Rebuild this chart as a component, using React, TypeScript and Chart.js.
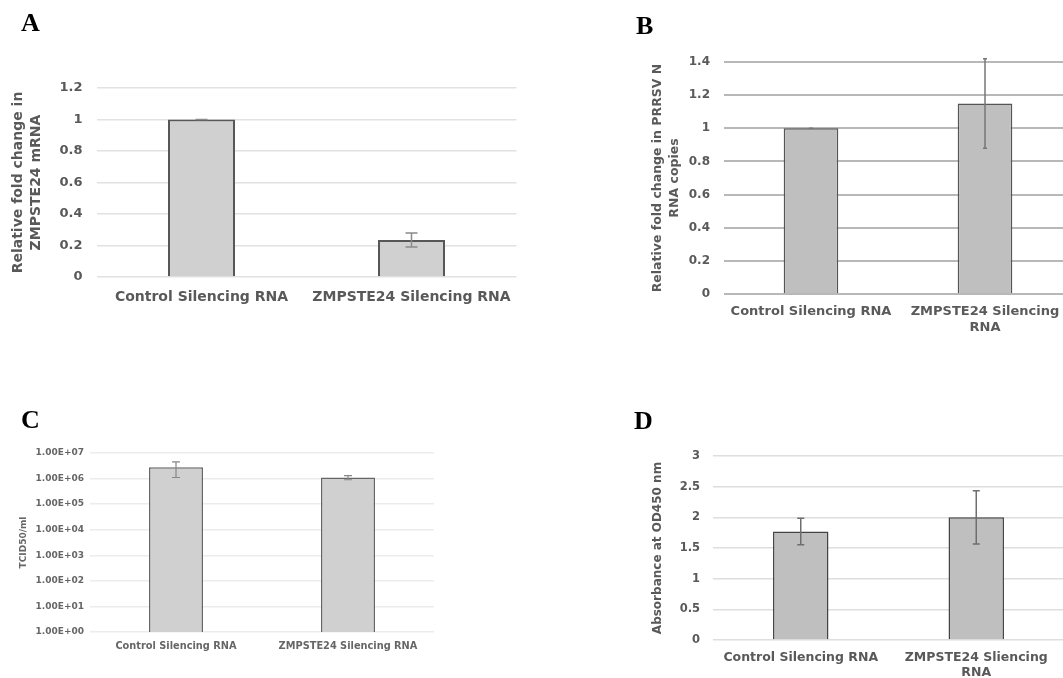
import React, { useEffect, useRef } from "react";
import { Chart, registerables } from "chart.js";

Chart.register(...registerables);

// ---- data ----
const categories = ["Control Silencing RNA", "ZMPSTE24 Silencing RNA"];

const labelsA = ["Control Silencing RNA", "ZMPSTE24 Silencing RNA"];
const valuesA = [1.0, 0.235];
const errorsA = [0, 0.045];
const ticksA = [0, 0.2, 0.4, 0.6, 0.8, 1, 1.2];

const labelsB = [["Control Silencing RNA"], ["ZMPSTE24 Silencing", "RNA"]];
const valuesB = [1.0, 1.15];
const errorsB = [0, 0.27];
const ticksB = [0, 0.2, 0.4, 0.6, 0.8, 1, 1.2, 1.4];

const labelsC = ["Control Silencing RNA", "ZMPSTE24 Silencing RNA"];
const valuesC = [2.8e6, 1.1e6];
const errorsC = [1.7e6, 0.2e6];
const ticksC = [1, 10, 100, 1000, 10000, 100000, 1000000, 10000000];
const tickLabelsC = ["1.00E+00", "1.00E+01", "1.00E+02", "1.00E+03", "1.00E+04", "1.00E+05", "1.00E+06", "1.00E+07"];

const labelsD = [["Control Silencing RNA"], ["ZMPSTE24 Sliencing", "RNA"]];
const valuesD = [1.77, 2.0];
const errorsD = [0.215, 0.435];
const ticksD = [0, 0.5, 1, 1.5, 2, 2.5, 3];

// ---- error bar plugin ----
const errorBarPlugin = {
  id: "errorBarsCustom",
  afterDatasetsDraw(chart: any) {
    const ctx = chart.ctx;
    const y = chart.scales.y;
    const ds: any = chart.data.datasets[0];
    const meta = chart.getDatasetMeta(0);
    const errs: number[] = ds.errors || [];
    ctx.save();
    ctx.strokeStyle = ds.errColor;
    ctx.lineWidth = ds.errWidth;
    const cap = ds.errCap;
    meta.data.forEach((bar: any, i: number) => {
      const e = errs[i];
      if (e == null) return;
      const v = ds.data[i];
      const yt = y.getPixelForValue(v + e);
      const yb = y.getPixelForValue(v - e);
      ctx.beginPath();
      ctx.moveTo(bar.x, yt);
      ctx.lineTo(bar.x, yb);
      ctx.moveTo(bar.x - cap / 2, yt);
      ctx.lineTo(bar.x + cap / 2, yt);
      ctx.moveTo(bar.x - cap / 2, yb);
      ctx.lineTo(bar.x + cap / 2, yb);
      ctx.stroke();
    });
    ctx.restore();
  },
};

type Panel = {
  left: number; top: number; w: number; h: number;
  labels: any[]; values: number[]; errors: number[];
  ticks: number[]; tickLabels?: string[]; log?: boolean;
  yWidth: number; xHeight: number; padTop: number; padRight: number;
  title: string | string[]; titleSize: number; titleLH: number; titlePad: number;
  tickSize: number; tickPad: number; catSize: number; catPad: number;
  textColor: string; gridColor: string; gridWidth: number;
  fill: string; border: string; borderWidth: number; barPct: number;
  errColor: string; errWidth: number; errCap: number;
};

const FONT = "'DejaVu Sans', 'Liberation Sans', Arial, sans-serif";

function makeConfig(p: Panel): any {
  const yCommon = {
    min: p.ticks[0],
    max: p.ticks[p.ticks.length - 1],
    afterBuildTicks: (s: any) => { s.ticks = p.ticks.map((v) => ({ value: v })); },
    grid: { color: p.gridColor, lineWidth: p.gridWidth, drawTicks: false, tickLength: 0 },
    border: { display: false },
    title: {
      display: true, text: p.title, color: p.textColor,
      padding: { top: p.titlePad, bottom: 0 },
      font: { family: FONT, size: p.titleSize, weight: "bold", lineHeight: p.titleLH / p.titleSize },
    },
    afterFit: (s: any) => { s.width = p.yWidth; },
  };
  return {
    type: "bar",
    data: {
      labels: p.labels,
      datasets: [
        {
          data: p.values,
          errors: p.errors,
          errColor: p.errColor,
          errWidth: p.errWidth,
          errCap: p.errCap,
          backgroundColor: p.fill,
          borderColor: p.border,
          borderWidth: p.borderWidth,
          categoryPercentage: 1,
          barPercentage: p.barPct,
        },
      ],
    },
    options: {
      animation: false,
      responsive: true,
      maintainAspectRatio: false,
      layout: { padding: { top: p.padTop, right: p.padRight, bottom: 0, left: 0 } },
      plugins: { legend: { display: false }, tooltip: { enabled: false }, title: { display: false } },
      scales: {
        x: {
          offset: true,
          grid: { display: false, drawTicks: false, tickLength: 0 },
          border: { display: false },
          ticks: {
            autoSkip: false, maxRotation: 0, minRotation: 0,
            padding: p.catPad,
            color: p.textColor,
            font: { family: FONT, size: p.catSize, weight: "bold", lineHeight: 1.2 },
          },
          afterFit: (s: any) => { s.height = p.xHeight; },
        },
        y: p.log
          ? {
              ...yCommon,
              type: "logarithmic",
              ticks: {
                padding: p.tickPad,
                color: p.textColor,
                font: { family: FONT, size: p.tickSize, weight: "bold" },
                callback: (v: number) => {
                  const i = p.ticks.indexOf(v);
                  return i >= 0 && p.tickLabels ? p.tickLabels[i] : "";
                },
              },
            }
          : {
              ...yCommon,
              type: "linear",
              ticks: {
                padding: p.tickPad,
                color: p.textColor,
                font: { family: FONT, size: p.tickSize, weight: "bold" },
                callback: (v: number) => String(Number(Number(v).toFixed(2))),
              },
            },
      },
    },
    plugins: [errorBarPlugin],
  };
}

const panels: Panel[] = [
  {
    left: 0, top: 0, w: 540, h: 320,
    labels: labelsA, values: valuesA, errors: errorsA, ticks: ticksA,
    yWidth: 96.5, xHeight: 43, padTop: 88, padRight: 23.5,
    title: ["Relative fold change in", "ZMPSTE24 mRNA"], titleSize: 14, titleLH: 18, titlePad: 9.5,
    tickSize: 13, tickPad: 14, catSize: 14, catPad: 12,
    textColor: "#595959", gridColor: "#e2e2e2", gridWidth: 1.5,
    fill: "#d0d0d0", border: "#575757", borderWidth: 2, barPct: 0.319,
    errColor: "#8a8a8a", errWidth: 1.5, errCap: 12,
  },
  {
    left: 600, top: 0, w: 480, h: 350,
    labels: labelsB, values: valuesB, errors: errorsB, ticks: ticksB,
    yWidth: 124, xHeight: 56, padTop: 62, padRight: 8,
    title: ["Relative fold change in PRRSV N", "RNA copies"], titleSize: 12.5, titleLH: 17, titlePad: 49,
    tickSize: 12, tickPad: 14, catSize: 13, catPad: 10,
    textColor: "#5a5a5a", gridColor: "#b8b8b8", gridWidth: 2,
    fill: "#bfbfbf", border: "#555555", borderWidth: 1.5, barPct: 0.314,
    errColor: "#777777", errWidth: 1.5, errCap: 4,
  },
  {
    left: 0, top: 390, w: 540, h: 288,
    labels: labelsC, values: valuesC, errors: errorsC, ticks: ticksC, tickLabels: tickLabelsC, log: true,
    yWidth: 90, xHeight: 46, padTop: 63, padRight: 106,
    title: "TCID50/ml", titleSize: 9, titleLH: 11, titlePad: 18,
    tickSize: 9, tickPad: 6, catSize: 9.8, catPad: 9,
    textColor: "#666666", gridColor: "#ececec", gridWidth: 1.5,
    fill: "#d0d0d0", border: "#666666", borderWidth: 1.5, barPct: 0.314,
    errColor: "#888888", errWidth: 1.2, errCap: 8,
  },
  {
    left: 600, top: 390, w: 480, h: 288,
    labels: labelsD, values: valuesD, errors: errorsD, ticks: ticksD,
    yWidth: 113, xHeight: 38, padTop: 66, padRight: 16,
    title: "Absorbance at OD450 nm", titleSize: 12, titleLH: 17, titlePad: 49,
    tickSize: 11.5, tickPad: 13, catSize: 12.5, catPad: 10,
    textColor: "#595959", gridColor: "#dedede", gridWidth: 1.5,
    fill: "#bfbfbf", border: "#444444", borderWidth: 1.5, barPct: 0.316,
    errColor: "#6e6e6e", errWidth: 1.5, errCap: 7,
  },
];

const letters = [
  { t: "A", left: 21, top: 10 },
  { t: "B", left: 636, top: 13 },
  { t: "C", left: 21, top: 407 },
  { t: "D", left: 634, top: 408 },
];

function ChartPanel({ p }: { p: Panel }) {
  const ref = useRef<HTMLCanvasElement | null>(null);
  useEffect(() => {
    if (!ref.current) return;
    const c = new Chart(ref.current, makeConfig(p));
    return () => c.destroy();
  }, [p]);
  return (
    <div style={{ position: "absolute", left: p.left, top: p.top, width: p.w, height: p.h }}>
      <canvas ref={ref} />
    </div>
  );
}

export default function App() {
  return (
    <div
      style={{
        position: "fixed", left: 0, top: 0, width: 1063, height: 678,
        overflow: "hidden", background: "#ffffff",
      }}
    >
      {panels.map((p, i) => (
        <ChartPanel key={i} p={p} />
      ))}
      {letters.map((l) => (
        <div
          key={l.t}
          style={{
            position: "absolute", left: l.left, top: l.top,
            fontFamily: "'Liberation Serif', 'Times New Roman', serif",
            fontWeight: "bold", fontSize: 26, lineHeight: "26px", color: "#000",
          }}
        >
          {l.t}
        </div>
      ))}
      <span style={{ display: "none" }}>{categories.join(",")}</span>
    </div>
  );
}
